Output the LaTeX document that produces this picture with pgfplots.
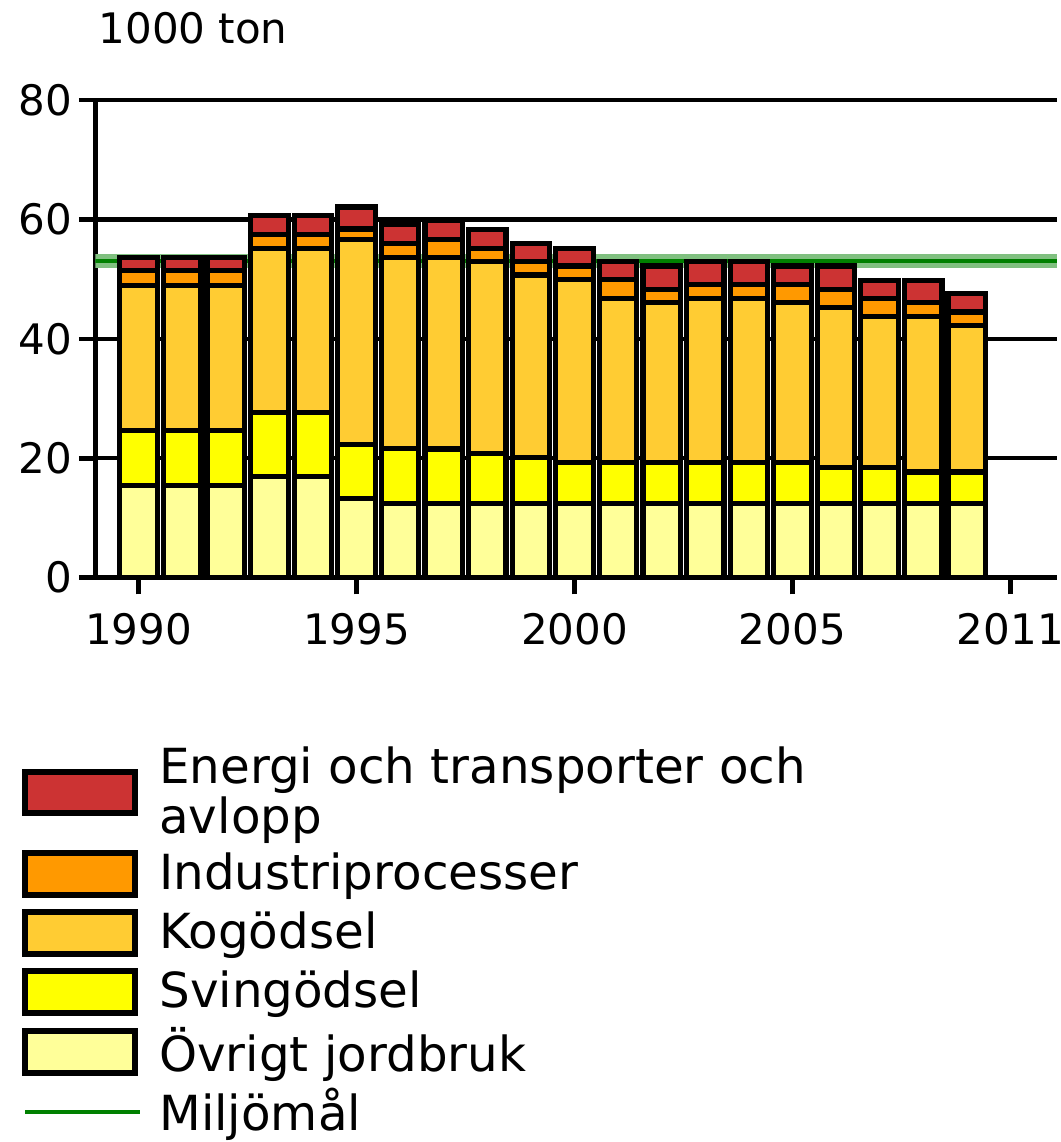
\documentclass[border=0pt]{standalone}
\usepackage{fontspec}
\setmainfont{DejaVu Sans}
\usepackage{pgfplots}
\pgfplotsset{compat=1.18}
\usepackage{pgfplotstable}

\definecolor{cEn}{RGB}{204,51,51}
\definecolor{cInd}{RGB}{255,153,0}
\definecolor{cKo}{RGB}{255,204,51}
\definecolor{cSv}{RGB}{255,255,0}
\definecolor{cOv}{RGB}{255,255,153}
\definecolor{cGr}{RGB}{0,128,0}
\definecolor{cGrL}{RGB}{128,192,128}

\pgfplotstableread{
year ov sv ko ind en
1990 15.5 9.2 24.3 2.4 2.3
1991 15.5 9.2 24.3 2.4 2.3
1992 15.5 9.2 24.3 2.4 2.3
1993 17.0 10.7 27.5 2.3 3.1
1994 17.0 10.7 27.5 2.3 3.1
1995 13.2 9.1 34.4 1.7 3.7
1996 12.4 9.2 32.0 2.4 3.1
1997 12.4 9.15 32.05 3.1 3.1
1998 12.4 8.4 32.1 2.3 3.1
1999 12.4 7.7 30.6 2.2 3.1
2000 12.4 6.9 30.6 2.3 3.0
2001 12.4 6.9 27.5 3.1 3.0
2002 12.4 6.9 26.8 2.2 3.9
2003 12.4 6.9 27.5 2.3 3.8
2004 12.4 6.9 27.5 2.3 3.8
2005 12.4 6.9 26.8 3.0 3.1
2006 12.4 6.1 26.8 3.0 3.9
2007 12.4 6.1 25.2 3.1 3.0
2008 12.4 5.3 26.0 2.4 3.7
2009 12.4 5.3 24.6 2.2 3.1
}\data

\pgfplotsset{
  common/.style={scale only axis, width=288.45pt, height=143.28pt,
    xmin=1989.01, xmax=2011.07, ymin=0, ymax=80},
  boxlegend/.style={legend image code/.code={\draw[##1, line width=1.8pt] (0pt,-6.2pt) rectangle (33pt,6.2pt);}},
  linelegend/.style={legend image code/.code={\draw[##1] (0pt,0pt) -- (34.6pt,0pt);}},
  mybar/.style={fill=#1, draw=black, line width=1.55pt, boxlegend},
}

\begin{document}
\begin{tikzpicture}
\begin{axis}[common,
  clip mode=individual,
  axis x line=bottom, axis y line=left,
  axis line style={-, line width=1.4pt, black},
  xtick={1990,1995,2000,2005,2010},
  xticklabels={1990,1995,2000,2005,2011},
  ytick={0,20,40,60,80},
  ymajorgrids, grid style={black, line width=1.3pt},
  tick align=outside, major tick length=5pt,
  tick style={black, line width=1.4pt},
  ticklabel style={font=\fontsize{12.6}{15}\selectfont},
  xticklabel style={yshift=-2.3pt},
  yticklabel style={xshift=1.5pt},
  /pgf/number format/assume math mode=true,
]
\addplot[cGrL, line width=4.2pt, forget plot] coordinates {(1989.01,53.1) (2011.07,53.1)};
\addplot[cGr, line width=1.1pt, forget plot] coordinates {(1989.01,53.1) (2011.07,53.1)};
\node[anchor=base west, inner sep=0pt, font=\fontsize{12.6}{15}\selectfont,
  xshift=0.75pt, yshift=17.1pt] at (rel axis cs:0,1) {1000 ton};
\coordinate (SW) at (rel axis cs:0,0);
\coordinate (NE) at (rel axis cs:1,1);
\end{axis}

\begin{axis}[common, hide axis, ybar stacked, bar width=0.86,
  reverse legend, legend cell align=left,
  legend style={at={(0,0)}, anchor=north west, xshift=-22.2pt, yshift=-50.4pt,
    draw=none, fill=none, inner sep=0pt, row sep=3.5pt,
    font=\fontsize{14.5}{15.2}\selectfont,
    nodes={inner sep=0pt, align=left},
    /tikz/every odd column/.append style={column sep=5pt}},
]
\addlegendimage{cGr, line width=1.3pt, linelegend}
\addlegendentry{Miljömål}
\addplot[mybar=cOv] table[x=year, y=ov] {\data};
\addlegendentry{Övrigt jordbruk}
\addplot[mybar=cSv] table[x=year, y=sv] {\data};
\addlegendentry{Svingödsel}
\addplot[mybar=cKo] table[x=year, y=ko] {\data};
\addlegendentry{Kogödsel}
\addplot[mybar=cInd] table[x=year, y=ind] {\data};
\addlegendentry{Industriprocesser}
\addplot[mybar=cEn] table[x=year, y=en] {\data};
\addlegendentry{Energi och transporter och\\avlopp}
\end{axis}
\pgfresetboundingbox
\path[use as bounding box] ([xshift=-28.65pt,yshift=-169.3pt]SW) rectangle ([xshift=1.2pt,yshift=30.03pt]NE);
\end{tikzpicture}
\end{document}
